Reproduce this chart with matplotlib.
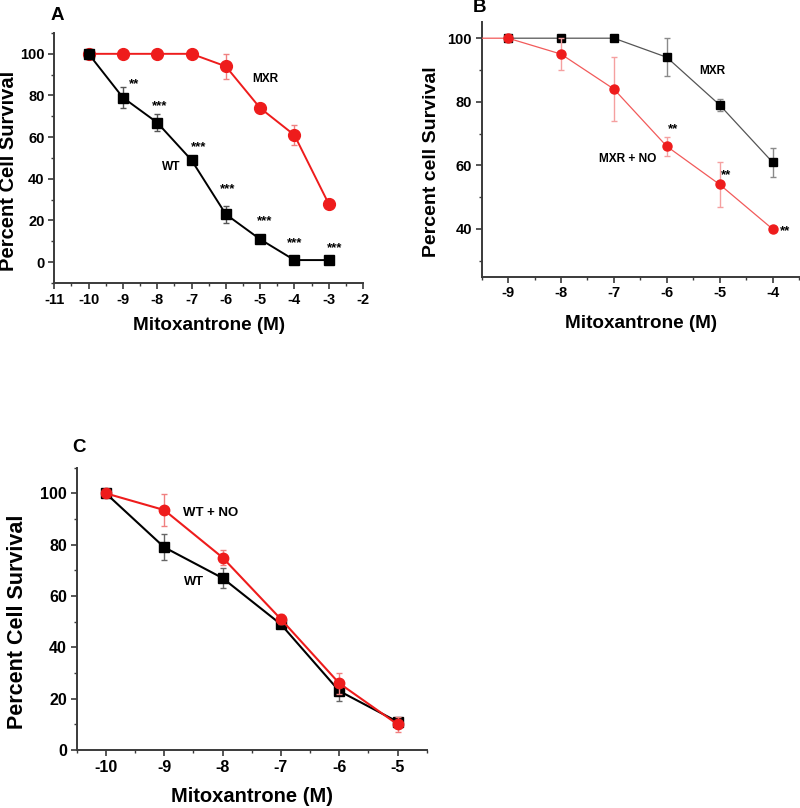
import matplotlib
matplotlib.use("Agg")
import matplotlib.pyplot as plt
from matplotlib.ticker import MultipleLocator

plt.rcParams['font.family'] = ['Liberation Sans', 'DejaVu Sans']
plt.rcParams['font.weight'] = 'bold'
plt.rcParams['axes.unicode_minus'] = False

# ---- Panel A data ----
a_x = [-10, -9, -8, -7, -6, -5, -4, -3]
a_wt = [100, 79, 67, 49, 23, 11, 1, 1]
a_wt_err = [0.8, 5, 4, 1, 4, 1, 1, 1]
a_mxr = [100, 100, 100, 100, 94, 74, 61, 28]
a_mxr_err = [0, 0, 0, 0, 6, 0.8, 4.6, 0.8]
a_star_x = [-8.68, -7.92, -6.80, -5.95, -4.86, -4.0, -2.82]
a_star_y = [87, 76.6, 56.8, 36.9, 21.5, 11.1, 8.3]
a_star_txt = ['**', '***', '***', '***', '***', '***', '***']

# ---- Panel B data ----
b_x_mxr = [-9, -8, -7, -6, -5, -4]
b_mxr = [100, 100, 100, 94, 79, 61]
b_mxr_err = [0.5, 0.3, 0.3, 6, 2, 4.5]
b_x_no = [-10, -9, -8, -7, -6, -5, -4]
b_no = [100, 100, 95, 84, 66, 54, 40]
b_no_err = [0, 0.5, 5, 10, 3, 7, 0.7]
b_star_x = [-5.89, -4.88, -3.76]
b_star_y = [72.5, 58.1, 40.6]

# ---- Panel C data ----
c_x = [-10, -9, -8, -7, -6, -5]
c_wt = [100, 79, 67, 49, 23, 11]
c_wt_err = [0.5, 5, 4, 1, 4, 1.5]
c_no = [100, 93.5, 75, 51, 26, 10]
c_no_err = [0.5, 6.3, 3, 2, 4, 3]

RED = '#ee1c1c'
SPINE = '#3a3a3a'

fig = plt.figure(figsize=(8, 8.08), dpi=100)
W, H = 800, 808


def ax_from_px(x0, x1, ytop, ybot):
    return fig.add_axes([x0 / W, 1 - ybot / H, (x1 - x0) / W, (ybot - ytop) / H])


def style(ax, xmaj, ymaj, fs):
    for s in ['top', 'right']:
        ax.spines[s].set_visible(False)
    for s in ['left', 'bottom']:
        ax.spines[s].set_color(SPINE)
        ax.spines[s].set_linewidth(1.4)
    ax.xaxis.set_major_locator(MultipleLocator(xmaj))
    ax.xaxis.set_minor_locator(MultipleLocator(xmaj / 2))
    ax.yaxis.set_major_locator(MultipleLocator(ymaj))
    ax.yaxis.set_minor_locator(MultipleLocator(ymaj / 2))
    ax.tick_params(which='major', direction='out', length=4, width=1.2, color=SPINE,
                   labelsize=fs, pad=3)
    ax.tick_params(which='minor', direction='out', length=2.5, width=1.0, color=SPINE)
    for lab in ax.get_xticklabels() + ax.get_yticklabels():
        lab.set_fontweight('bold')


# ---------------- Panel A ----------------
axA = ax_from_px(54.3, 363, 33, 283)
axA.errorbar(a_x, a_wt, yerr=a_wt_err, color='black', lw=1.4, marker='s', ms=7.5,
             ecolor='#555555', elinewidth=1.0, capsize=2.5, capthick=1.0, zorder=3)
axA.errorbar(a_x, a_mxr, yerr=a_mxr_err, color=RED, lw=1.4, marker='o', ms=8.5,
             ecolor='#f08080', elinewidth=1.0, capsize=2.5, capthick=1.0, zorder=2)
axA.set_xlim(-11, -2)
axA.set_ylim(-10, 110)
style(axA, 1, 20, 10.5)
axA.set_yticks([0, 20, 40, 60, 80, 100])
for sx, sy, st in zip(a_star_x, a_star_y, a_star_txt):
    axA.text(sx, sy - 1.8, st, ha='center', va='center', fontsize=9.5, fontweight='bold')
axA.text(-4.86, 87.8, 'MXR', ha='center', va='center', fontsize=8.6, fontweight='bold')
axA.text(-7.6, 45.6, 'WT', ha='center', va='center', fontsize=8.6, fontweight='bold')

fig.text(57 / W, 1 - 15 / H, 'A', ha='center', va='center', fontsize=13.5, fontweight='bold')
fig.text(9 / W, 1 - 171 / H, 'Percent Cell Survival', rotation=90, ha='center', va='center',
         fontsize=14.5, fontweight='bold')
fig.text(209 / W, 1 - 325 / H, 'Mitoxantrone (M)', ha='center', va='center',
         fontsize=13.6, fontweight='bold')

# ---------------- Panel B ----------------
axB = ax_from_px(481.7, 799, 22.3, 276.7)
axB.errorbar(b_x_mxr, b_mxr, yerr=b_mxr_err, color='#555555', lw=0.9, marker='s', ms=5.5,
             mfc='black', mec='black', ecolor='#8a8a8a', elinewidth=1.0, capsize=2.5,
             capthick=1.0, zorder=2)
axB.errorbar(b_x_no, b_no, yerr=b_no_err, color='#f25a5a', lw=0.9, marker='o', ms=6.5,
             mfc=RED, mec=RED, ecolor='#f5a0a0', elinewidth=1.0, capsize=2.5,
             capthick=1.0, zorder=3)
axB.set_xlim(-9.5, -3.5)
axB.set_ylim(25, 105)
style(axB, 1, 20, 10.5)
axB.set_xticks([-9, -8, -7, -6, -5, -4])
axB.set_yticks([40, 60, 80, 100])
axB.yaxis.set_minor_locator(MultipleLocator(10))
for sx, sy in zip(b_star_x, b_star_y):
    axB.text(sx, sy - 1.2, '**', ha='center', va='center', fontsize=9.5, fontweight='bold')
axB.text(-5.13, 89.6, 'MXR', ha='center', va='center', fontsize=8.6, fontweight='bold')
axB.text(-6.73, 62.1, 'MXR + NO', ha='center', va='center', fontsize=8.6, fontweight='bold')

fig.text(480 / W, 1 - 8 / H, 'B', ha='center', va='center', fontsize=13.5, fontweight='bold')
fig.text(432 / W, 1 - 162 / H, 'Percent cell Survival', rotation=90, ha='center', va='center',
         fontsize=14, fontweight='bold')
fig.text(641 / W, 1 - 323 / H, 'Mitoxantrone (M)', ha='center', va='center',
         fontsize=13.6, fontweight='bold')

# ---------------- Panel C ----------------
axC = ax_from_px(76.7, 426.7, 467.7, 750)
axC.errorbar(c_x, c_wt, yerr=c_wt_err, color='black', lw=1.5, marker='s', ms=6.5,
             ecolor='#666666', elinewidth=1.0, capsize=2.5, capthick=1.0, zorder=2)
axC.errorbar(c_x, c_no, yerr=c_no_err, color=RED, lw=1.5, marker='o', ms=7.5,
             ecolor='#f08080', elinewidth=1.0, capsize=2.5, capthick=1.0, zorder=3)
axC.set_xlim(-10.5, -4.5)
axC.set_ylim(0, 110)
style(axC, 1, 20, 11.5)
axC.set_xticks([-10, -9, -8, -7, -6, -5])
axC.set_yticks([0, 20, 40, 60, 80, 100])
axC.text(-8.21, 92.4, 'WT + NO', ha='center', va='center', fontsize=9.5, fontweight='bold')
axC.text(-8.49, 65.3, 'WT', ha='center', va='center', fontsize=9.3, fontweight='bold')

fig.text(79 / W, 1 - 447 / H, 'C', ha='center', va='center', fontsize=13.5, fontweight='bold')
fig.text(18 / W, 1 - 622 / H, 'Percent Cell Survival', rotation=90, ha='center', va='center',
         fontsize=15.5, fontweight='bold')
fig.text(252 / W, 1 - 797 / H, 'Mitoxantrone (M)', ha='center', va='center',
         fontsize=14.5, fontweight='bold')

fig.savefig('out.png', dpi=100)
